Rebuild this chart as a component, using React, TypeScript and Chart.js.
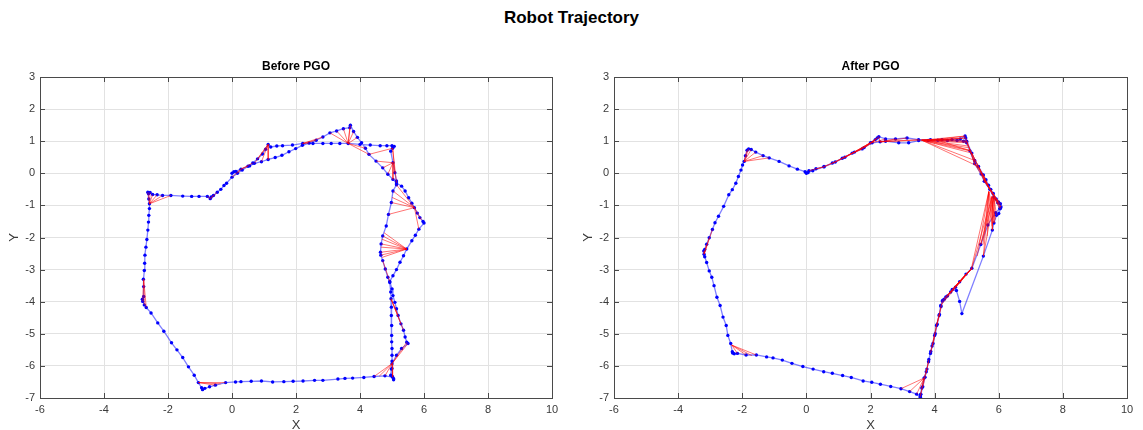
import React, { useEffect, useRef } from 'react';
import { Chart, registerables } from 'chart.js';

Chart.register(...registerables);

const mainTitle = 'Robot Trajectory';
const beforeTitle = 'Before PGO';
const afterTitle = 'After PGO';
const xLabel = 'X';
const yLabel = 'Y';
const xTicks = [-6, -4, -2, 0, 2, 4, 6, 8, 10];
const yTicks = [-7, -6, -5, -4, -3, -2, -1, 0, 1, 2, 3];

// Trajectory before pose-graph optimisation (x, y)
const beforePath: number[][] = [
  [0, 0], [0.06, 0.05], [0.12, 0.06], [0.28, 0.13], [0.55, 0.23], [0.7, 0.31], [0.92, 0.36], [1.13, 0.43],
  [1.35, 0.49], [1.56, 0.56], [1.78, 0.67], [1.99, 0.77], [2.2, 0.87], [2.41, 0.94], [2.63, 1.03], [2.84, 1.13],
  [3.06, 1.26], [3.27, 1.32], [3.48, 1.39], [3.68, 1.42], [3.7, 1.5], [3.8, 1.3], [3.92, 1.12], [4.05, 0.95],
  [4.17, 0.78], [4.28, 0.59], [4.5, 0.38], [4.71, 0.17], [4.87, -0.03], [5.03, -0.19], [5.14, -0.3], [5.3, -0.4],
  [5.41, -0.55], [5.52, -0.76], [5.62, -0.93], [5.7, -1.07], [5.79, -1.24], [5.87, -1.38], [5.97, -1.5], [6.0, -1.55],
  [5.84, -1.74], [5.73, -1.93], [5.62, -2.1], [5.46, -2.36], [5.36, -2.57], [5.25, -2.77], [5.14, -3.0], [5.03, -3.19],
  [4.93, -3.37], [5.0, -3.6], [5.03, -3.81], [5.09, -4.02], [5.14, -4.22], [5.19, -4.43], [5.28, -4.69], [5.36, -4.89],
  [5.41, -5.1], [5.46, -5.26], [5.5, -5.3], [5.3, -5.46], [5.14, -5.67], [5.0, -5.93], [4.98, -6.1], [4.96, -6.29],
  [5.02, -6.35], [4.78, -6.31], [4.44, -6.33], [4.12, -6.36], [3.77, -6.38], [3.53, -6.39], [3.31, -6.41], [2.84, -6.45],
  [2.58, -6.45], [2.22, -6.47], [1.91, -6.48], [1.62, -6.49], [1.27, -6.5], [0.92, -6.47], [0.6, -6.48], [0.28, -6.49],
  [0.11, -6.5], [-0.2, -6.52], [-0.52, -6.6], [-0.7, -6.65], [-0.85, -6.7], [-0.92, -6.74], [-0.95, -6.68], [-1.05, -6.52],
  [-1.18, -6.29], [-1.36, -6.03], [-1.54, -5.74], [-1.72, -5.5], [-1.89, -5.28], [-2.13, -4.92], [-2.32, -4.66], [-2.53, -4.35],
  [-2.68, -4.18], [-2.74, -4.1], [-2.79, -3.99], [-2.8, -3.92], [-2.76, -3.84], [-2.76, -3.53], [-2.77, -3.3], [-2.74, -3.03],
  [-2.73, -2.8], [-2.72, -2.55], [-2.69, -2.3], [-2.66, -2.06], [-2.63, -1.77], [-2.61, -1.52], [-2.6, -1.31], [-2.58, -1.1],
  [-2.58, -0.95], [-2.6, -0.8], [-2.61, -0.64], [-2.63, -0.59], [-2.56, -0.6], [-2.48, -0.66], [-2.34, -0.67], [-2.17, -0.69],
  [-1.91, -0.69], [-1.54, -0.71], [-1.26, -0.72], [-1.03, -0.72], [-0.77, -0.72], [-0.68, -0.79], [-0.65, -0.74], [-0.58, -0.69],
  [-0.46, -0.59], [-0.35, -0.5], [-0.25, -0.38], [-0.17, -0.31], [0.0, -0.12], [0.17, 0.0], [0.32, 0.1], [0.5, 0.22],
  [0.65, 0.32], [0.8, 0.45], [0.95, 0.6], [1.05, 0.75], [1.13, 0.9], [1.21, 0.82], [1.4, 0.85], [1.58, 0.86],
  [1.89, 0.88], [2.21, 0.93], [2.53, 0.93], [2.84, 0.93], [3.1, 0.93], [3.37, 0.93], [3.63, 0.93], [4.0, 0.9],
  [4.32, 0.88], [4.63, 0.86], [4.84, 0.86], [5.0, 0.86], [5.07, 0.84], [5.02, 0.78], [4.96, 0.69], [5.03, 0.33],
  [5.09, 0.02], [5.14, -0.24], [5.14, -0.36], [5.03, -0.55], [4.98, -0.91], [4.89, -1.28], [4.82, -1.64], [4.71, -1.95],
  [4.66, -2.2], [4.64, -2.46], [4.65, -2.55], [4.71, -2.72], [4.79, -2.98], [4.87, -3.24], [4.93, -3.4], [4.96, -3.7],
  [4.97, -3.91], [4.98, -4.17], [4.98, -4.43], [4.99, -4.74], [4.99, -5.05], [4.99, -5.25], [5.0, -5.46], [5.0, -5.67],
  [5.0, -5.85], [5.0, -6.08], [5.01, -6.33], [5.05, -6.4], [5.05, -6.43],
];

// Loop-closure fans before optimisation: first pair is the shared node, the rest are linked nodes
const beforeLoops: number[][][] = [
  [[-2.58, -0.95], [-2.63, -0.59], [-2.56, -0.6], [-2.48, -0.66], [-2.34, -0.67], [-2.17, -0.69], [-1.91, -0.69]],
  [[-0.68, -0.79], [-0.58, -0.69], [-0.46, -0.59], [-0.77, -0.72]],
  [[0.28, 0.13], [0.0, -0.12], [0.17, 0.0], [0.5, 0.22], [0.65, 0.32]],
  [[1.13, 0.9], [0.7, 0.31], [0.92, 0.36], [1.13, 0.43], [0.8, 0.45]],
  [[2.21, 0.93], [2.41, 0.94], [2.63, 1.03], [2.84, 1.13]],
  [[3.63, 0.93], [3.06, 1.26], [3.27, 1.32], [3.48, 1.39], [3.68, 1.42], [3.7, 1.5], [3.8, 1.3], [3.92, 1.12], [4.17, 0.78], [4.28, 0.59]],
  [[5.02, 0.78], [4.28, 0.59], [5.14, -0.3], [5.09, 0.02]],
  [[5.03, 0.33], [4.5, 0.38], [4.71, 0.17], [4.87, -0.03], [5.03, -0.19]],
  [[5.7, -1.07], [5.14, -0.36], [5.03, -0.55], [5.0, -0.75], [4.98, -0.91], [4.89, -1.28], [5.84, -1.74], [5.92, -1.45]],
  [[5.46, -2.36], [4.75, -1.85], [4.71, -1.95], [4.68, -2.05], [4.66, -2.2], [4.65, -2.3], [4.64, -2.46], [4.65, -2.55], [4.69, -2.62]],
  [[4.71, -2.72], [4.93, -3.37]],
  [[4.97, -3.91], [5.19, -4.43], [5.28, -4.69], [5.36, -4.89]],
  [[5.0, -5.93], [5.46, -5.26], [5.5, -5.3], [4.44, -6.33], [4.6, -6.32], [4.78, -6.31], [5.02, -6.35]],
  [[-1.05, -6.52], [-0.2, -6.52], [-0.35, -6.56], [-0.52, -6.6]],
  [[-2.76, -3.3], [-2.74, -4.1], [-2.68, -4.18], [-2.79, -3.99]],
];

// Trajectory after pose-graph optimisation (x, y)
const afterPath: number[][] = [
  [0, 0], [0.08, 0.08], [0.3, 0.14], [0.55, 0.21], [0.81, 0.32], [1.12, 0.47], [1.43, 0.63], [1.74, 0.76],
  [2.0, 0.95], [2.15, 1.05], [2.21, 1.1], [2.26, 1.14], [2.47, 1.07], [2.78, 1.07], [3.14, 1.1], [3.5, 1.05],
  [3.87, 1.05], [4.23, 1.05], [4.54, 1.05], [4.8, 1.07], [4.95, 1.16], [4.97, 1.1], [5.0, 1.0], [5.16, 0.63],
  [5.25, 0.4], [5.37, 0.21], [5.52, -0.05], [5.6, -0.2], [5.68, -0.37], [5.75, -0.5], [5.83, -0.63], [5.92, -0.8],
  [5.99, -0.89], [6.05, -0.95], [6.07, -1.05], [6.05, -1.1], [6.0, -1.25], [5.93, -1.31], [5.85, -1.55], [5.8, -1.77],
  [5.52, -2.58], [4.85, -4.37], [4.78, -3.99], [4.68, -3.65], [4.55, -3.62], [4.4, -3.82], [4.3, -3.92], [4.24, -3.98],
  [4.19, -4.12], [4.14, -4.43], [4.06, -4.74], [4.0, -5.05], [3.92, -5.38], [3.87, -5.61], [3.81, -5.87], [3.74, -6.18],
  [3.67, -6.38], [3.6, -6.69], [3.56, -6.9], [3.55, -6.97], [3.44, -6.88], [3.22, -6.8], [2.95, -6.71], [2.63, -6.64],
  [2.31, -6.57], [2.04, -6.51], [1.77, -6.47], [1.4, -6.36], [1.13, -6.3], [0.81, -6.23], [0.54, -6.18], [0.21, -6.1],
  [-0.11, -6.02], [-0.45, -5.92], [-0.75, -5.82], [-1.04, -5.75], [-1.24, -5.72], [-1.56, -5.66], [-1.88, -5.66], [-2.15, -5.61],
  [-2.25, -5.62], [-2.3, -5.6], [-2.31, -5.56], [-2.36, -5.3], [-2.45, -5.05], [-2.5, -4.74], [-2.6, -4.48], [-2.69, -4.12],
  [-2.79, -3.86], [-2.88, -3.5], [-2.95, -3.24], [-3.03, -3.04], [-3.11, -2.78], [-3.17, -2.6], [-3.19, -2.52], [-3.2, -2.42],
  [-3.17, -2.37], [-3.11, -2.21], [-3.03, -2.01], [-2.93, -1.75], [-2.85, -1.54], [-2.74, -1.34], [-2.58, -1.03], [-2.42, -0.67],
  [-2.31, -0.51], [-2.2, -0.31], [-2.12, -0.1], [-2.04, 0.1], [-1.99, 0.26], [-1.94, 0.37], [-1.9, 0.55], [-1.85, 0.72],
  [-1.8, 0.76], [-1.72, 0.74], [-1.58, 0.66], [-1.35, 0.55], [-1.16, 0.48], [-0.85, 0.37], [-0.54, 0.23], [-0.28, 0.13],
  [-0.04, 0.05], [0.05, 0.02], [0.2, 0.08], [0.55, 0.2], [0.9, 0.35], [1.2, 0.5], [1.5, 0.66], [1.8, 0.8],
  [2.05, 0.95], [2.3, 0.98], [2.47, 1.0], [2.88, 0.95], [3.19, 0.95], [3.5, 1.02], [3.8, 1.02], [4.1, 1.03],
  [4.4, 1.02], [4.7, 1.02], [4.9, 1.0], [5.0, 0.95], [5.1, 0.7], [5.25, 0.3], [5.45, -0.02], [5.55, -0.25],
  [5.72, -0.5], [5.85, -0.75], [5.97, -0.92], [6.03, -1.1], [5.9, -1.23], [5.66, -1.61], [5.44, -2.22], [5.16, -2.96],
  [4.98, -3.14], [4.78, -3.38], [4.65, -3.55], [4.5, -3.7], [4.35, -3.85], [4.26, -3.95], [4.2, -4.15], [4.15, -4.4],
  [4.08, -4.7], [4.02, -5.0], [3.95, -5.3], [3.88, -5.55], [3.82, -5.8], [3.76, -6.1], [3.7, -6.35], [3.63, -6.65],
  [3.57, -6.88], [3.56, -6.98],
];

// Loop-closure fans after optimisation
const afterLoops: number[][][] = [
  [[-1.94, 0.37], [-1.85, 0.72], [-1.8, 0.76], [-1.72, 0.74], [-1.58, 0.66], [-1.35, 0.55], [-1.16, 0.48]],
  [[0.55, 0.2], [0.08, 0.08], [0.3, 0.14], [0.81, 0.32]],
  [[0.9, 0.35], [0.55, 0.21], [0.81, 0.32], [1.12, 0.47], [1.43, 0.63]],
  [[1.2, 0.5], [0.81, 0.32], [1.12, 0.47], [1.43, 0.63], [1.74, 0.76], [2.0, 0.95]],
  [[1.5, 0.66], [1.12, 0.47], [1.43, 0.63], [1.74, 0.76], [2.0, 0.95], [2.15, 1.05]],
  [[1.8, 0.8], [2.0, 0.95], [2.15, 1.05], [2.21, 1.1], [1.43, 0.63]],
  [[2.05, 0.95], [2.21, 1.1], [2.26, 1.14], [2.47, 1.07], [1.74, 0.76]],
  [[2.3, 0.98], [2.78, 1.07], [3.14, 1.1], [3.5, 1.05], [2.26, 1.14], [3.87, 1.05]],
  [[3.6, 1.03], [4.23, 1.05], [4.54, 1.05], [4.8, 1.07], [4.95, 1.16], [4.97, 1.1], [5.0, 1.0], [5.04, 0.8], [5.1, 0.7], [5.16, 0.63], [5.25, 0.4], [5.37, 0.21]],
  [[3.8, 1.02], [4.95, 1.16], [5.0, 0.95], [5.04, 0.85], [5.1, 0.72]],
  [[4.1, 1.03], [4.97, 1.1], [5.0, 1.0], [5.1, 0.7]],
  [[5.25, 0.3], [5.0, 1.0], [4.97, 1.1], [5.16, 0.63], [5.37, 0.21], [5.52, -0.05]],
  [[5.55, -0.25], [5.37, 0.21], [5.52, -0.05], [5.68, -0.37], [5.75, -0.5], [5.83, -0.63]],
  [[5.97, -0.92], [5.83, -0.63], [5.92, -0.8], [6.07, -1.05], [6.05, -1.1], [5.75, -0.5]],
  [[5.72, -0.5], [5.0, 0.95], [5.16, 0.63], [5.25, 0.3], [5.37, 0.21], [5.52, -0.05], [5.99, -0.89], [6.05, -0.95], [6.07, -1.05], [6.03, -1.1]],
  [[5.69, -0.57], [5.14, -2.99], [5.33, -2.58], [5.51, -2.22], [5.64, -1.96], [5.79, -1.65], [5.9, -1.44], [5.52, -2.58]],
  [[5.79, -0.72], [5.16, -2.96], [5.44, -2.22], [5.66, -1.61], [5.8, -1.77]],
  [[5.85, -0.75], [5.52, -2.58], [5.93, -1.31], [5.85, -1.55], [5.44, -2.22]],
  [[5.16, -2.96], [4.24, -3.98], [4.3, -3.92], [4.4, -3.82], [4.55, -3.62], [4.65, -3.55], [4.35, -3.85], [4.19, -4.12]],
  [[4.98, -3.14], [4.3, -3.92], [4.4, -3.82], [4.55, -3.62]],
  [[4.15, -4.4], [4.24, -3.98], [4.14, -4.43], [4.06, -4.74]],
  [[4.06, -4.74], [4.2, -4.15], [3.95, -5.3], [4.15, -4.4], [3.88, -5.55]],
  [[3.95, -5.3], [4.0, -5.05], [3.92, -5.38], [3.87, -5.61]],
  [[3.76, -6.1], [3.81, -5.87], [3.74, -6.18], [3.67, -6.38]],
  [[3.74, -6.18], [3.82, -5.8], [3.63, -6.65]],
  [[3.67, -6.38], [2.95, -6.71], [3.22, -6.8], [3.44, -6.88], [3.55, -6.97], [3.56, -6.9]],
  [[-2.33, -5.35], [-1.56, -5.66], [-1.7, -5.68], [-1.88, -5.66], [-2.15, -5.61]],
  [[-3.19, -2.52], [-3.03, -2.01], [-2.93, -1.75], [-3.11, -2.21], [-3.2, -2.42]],
];

const FONT = "'Liberation Sans', Arial, Helvetica, sans-serif";
const TEXT = '#3a3a3a';

function toPoints(path: number[][]) {
  return path.map((p) => ({ x: p[0], y: p[1] }));
}

function fanSegments(fans: number[][][]) {
  const out: { x: number; y: number }[] = [];
  fans.forEach((fan) => {
    const apex = fan[0];
    fan.slice(1).forEach((t) => {
      out.push({ x: apex[0], y: apex[1] });
      out.push({ x: t[0], y: t[1] });
      out.push({ x: NaN, y: NaN });
    });
  });
  return out;
}

function framePlugin(title: string) {
  return {
    id: 'frame',
    afterDraw(chart: any) {
      const { ctx, chartArea } = chart;
      const { left, right, top, bottom } = chartArea;
      const xs = chart.scales.x;
      const ys = chart.scales.y;
      ctx.save();
      ctx.strokeStyle = '#4a4a4a';
      ctx.lineWidth = 1;
      ctx.strokeRect(Math.round(left) + 0.5, Math.round(top) + 0.5, Math.round(right - left), Math.round(bottom - top));
      const tl = 5;
      ctx.beginPath();
      xTicks.forEach((v) => {
        const px = Math.round(xs.getPixelForValue(v)) + 0.5;
        ctx.moveTo(px, bottom);
        ctx.lineTo(px, bottom - tl);
        ctx.moveTo(px, top);
        ctx.lineTo(px, top + tl);
      });
      yTicks.forEach((v) => {
        const py = Math.round(ys.getPixelForValue(v)) + 0.5;
        ctx.moveTo(left, py);
        ctx.lineTo(left + tl, py);
        ctx.moveTo(right, py);
        ctx.lineTo(right - tl, py);
      });
      ctx.stroke();

      ctx.fillStyle = '#000';
      ctx.textAlign = 'center';
      ctx.textBaseline = 'middle';
      ctx.font = `bold 12px ${FONT}`;
      ctx.fillText(title, (left + right) / 2, 67);

      ctx.fillStyle = TEXT;
      ctx.font = `13px ${FONT}`;
      ctx.fillText(xLabel, (left + right) / 2, 425);
      ctx.translate(left - 26, (top + bottom) / 2);
      ctx.rotate(-Math.PI / 2);
      ctx.fillText(yLabel, 0, 0);
      ctx.restore();
    },
  };
}

function makeConfig(path: number[][], loops: number[][][], title: string, yWidth: number, padRight: number) {
  const tickFont = { family: FONT, size: 11 };
  return {
    type: 'scatter',
    data: {
      datasets: [
        {
          data: fanSegments(loops),
          showLine: true,
          spanGaps: false,
          borderColor: 'rgba(255,0,0,0.55)',
          borderWidth: 1,
          pointRadius: 0,
          pointHoverRadius: 0,
        },
        {
          data: toPoints(path),
          showLine: false,
          pointRadius: 1.7,
          pointBackgroundColor: '#0000ff',
          pointBorderWidth: 0,
          pointHoverRadius: 1.7,
        },
        {
          data: toPoints(path),
          showLine: true,
          borderColor: 'rgba(0,0,255,0.5)',
          borderWidth: 1.3,
          pointRadius: 0,
          pointHoverRadius: 0,
        },
      ],
    },
    options: {
      animation: false,
      responsive: false,
      maintainAspectRatio: false,
      events: [],
      layout: { padding: { left: 0, right: padRight, top: 77, bottom: 0 } },
      plugins: {
        legend: { display: false },
        tooltip: { enabled: false },
        title: { display: false },
      },
      scales: {
        x: {
          type: 'linear',
          min: xTicks[0],
          max: xTicks[xTicks.length - 1],
          afterBuildTicks: (s: any) => {
            s.ticks = xTicks.map((v) => ({ value: v }));
          },
          afterFit: (s: any) => {
            s.height = 32;
          },
          grid: { color: '#e2e2e2', lineWidth: 1, drawTicks: false },
          border: { display: false },
          ticks: { color: TEXT, font: tickFont, padding: 5, maxRotation: 0, autoSkip: false },
        },
        y: {
          type: 'linear',
          min: yTicks[0],
          max: yTicks[yTicks.length - 1],
          afterBuildTicks: (s: any) => {
            s.ticks = yTicks.map((v) => ({ value: v }));
          },
          afterFit: (s: any) => {
            s.width = yWidth;
          },
          grid: { color: '#e2e2e2', lineWidth: 1, drawTicks: false },
          border: { display: false },
          ticks: { color: TEXT, font: tickFont, padding: 5, autoSkip: false },
        },
      },
    },
    plugins: [framePlugin(title)],
  } as any;
}

function Panel(props: { left: number; width: number; path: number[][]; loops: number[][][]; title: string; yWidth: number; padRight: number }) {
  const ref = useRef<HTMLCanvasElement | null>(null);
  useEffect(() => {
    if (!ref.current) return;
    const chart = new Chart(ref.current, makeConfig(props.path, props.loops, props.title, props.yWidth, props.padRight));
    return () => chart.destroy();
  }, []);
  return (
    <canvas
      ref={ref}
      width={props.width}
      height={430}
      style={{ position: 'absolute', left: props.left, top: 0, width: props.width, height: 430 }}
    />
  );
}

export default function App() {
  return (
    <div style={{ position: 'fixed', left: 0, top: 0, width: 1143, height: 430, background: '#fff', overflow: 'hidden' }}>
      <div
        style={{
          position: 'absolute',
          left: 0,
          top: 8,
          width: 1143,
          height: 20,
          lineHeight: '20px',
          textAlign: 'center',
          fontFamily: FONT,
          fontWeight: 'bold',
          fontSize: 17,
          color: '#000',
        }}
      >
        {mainTitle}
      </div>
      <Panel left={0} width={571} path={beforePath} loops={beforeLoops} title={beforeTitle} yWidth={40} padRight={19} />
      <Panel left={571} width={572} path={afterPath} loops={afterLoops} title={afterTitle} yWidth={43} padRight={16} />
    </div>
  );
}
